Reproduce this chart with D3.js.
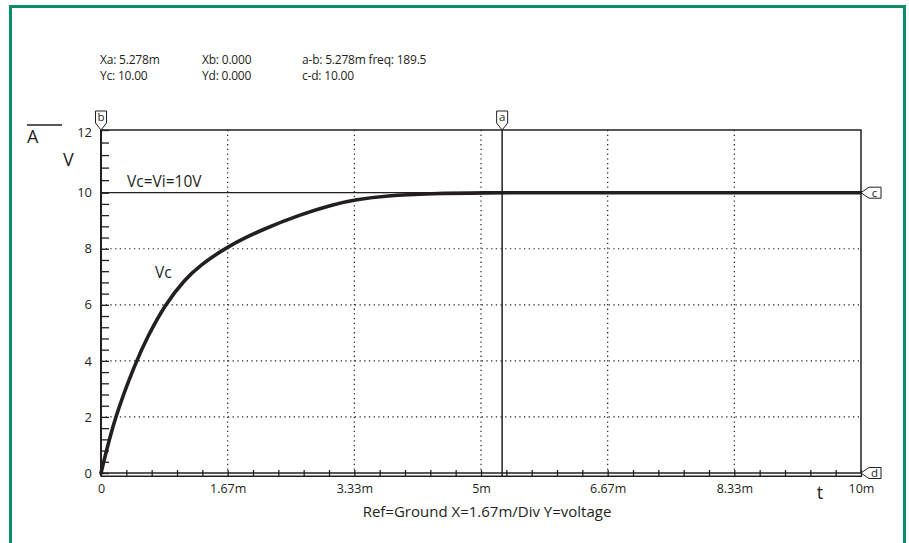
<!DOCTYPE html>
<html>
<head>
<meta charset="utf-8">
<script src="https://cdn.jsdelivr.net/npm/d3@7"></script>
<style>
  html, body { margin: 0; padding: 0; background: #fff; }
  svg { display: block; }
  text { font-family: "Open Sans", "Noto Sans", sans-serif; fill: #231f20; }
</style>
</head>
<body>
<svg id="chart" width="909" height="543"></svg>
<script>
// ---- data ----
const timeMs = [0, 0.18, 0.46, 0.61, 0.84, 1.1, 1.3, 1.67, 2.15, 2.6, 3.05, 3.35, 3.75, 4.35, 5.0, 6.0, 8.0, 10.0];
const vcVolts = [0, 2.0, 3.97, 4.85, 6.0, 6.9, 7.4, 8.1, 8.72, 9.2, 9.58, 9.75, 9.89, 9.97, 10.0, 10.0, 10.0, 10.0];
const xTickValues = [0, 10/6, 20/6, 5, 40/6, 50/6, 10];
const xTickLabels = ["0", "1.67m", "3.33m", "5m", "6.67m", "8.33m", "10m"];
const yTickValues = [0, 2, 4, 6, 8, 10, 12];
const yTickLabels = ["0", "2", "4", "6", "8", "10", "12"];
const headerLines = [
  ["Xa: 5.278m", "Xb: 0.000", "a-b: 5.278m freq: 189.5"],
  ["Yc: 10.00", "Yd: 0.000", "c-d: 10.00"]
];
const cursorA = 5.278, cursorB = 0, cursorC = 10, cursorD = 0;
const refLabel = "Ref=Ground X=1.67m/Div Y=voltage";

// ---- layout ----
const svg = d3.select("#chart");
const ink = "#231f20";
const L = 101, R = 861, T = 130, B = 473;
const x = d3.scaleLinear().domain([0, 10]).range([L, R]);
const y = d3.scaleLinear().domain([0, 10, 12]).range([B, 192.7, T]);

// green frame
svg.append("rect").attr("x", 10.5).attr("y", 6.5).attr("width", 894).attr("height", 560)
  .attr("fill", "none").attr("stroke", "#0b8d6b").attr("stroke-width", 3);

// header
const colX = [100, 202, 302];
headerLines.forEach((row, i) => {
  row.forEach((s, j) => {
    svg.append("text").attr("x", colX[j]).attr("y", 64 + i * 16)
      .attr("font-size", 12).attr("letter-spacing", -0.2).text(s);
  });
});

// grid (dotted)
const g = svg.append("g");
g.selectAll(".vg").data(xTickValues.slice(1, -1)).join("line")
  .attr("x1", d => x(d)).attr("x2", d => x(d)).attr("y1", T).attr("y2", B)
  .attr("stroke", ink).attr("stroke-width", 1.2).attr("stroke-dasharray", "1.3,3.4");
g.selectAll(".hg").data([2, 4, 6, 8]).join("line")
  .attr("x1", L).attr("x2", R).attr("y1", d => y(d)).attr("y2", d => y(d))
  .attr("stroke", ink).attr("stroke-width", 1.2).attr("stroke-dasharray", "1.3,3.4");

// plot frame
svg.append("rect").attr("x", L).attr("y", T).attr("width", R - L).attr("height", B - T)
  .attr("fill", "none").attr("stroke", ink).attr("stroke-width", 1.5);
svg.append("line").attr("x1", L).attr("x2", R).attr("y1", B + 3.3).attr("y2", B + 3.3)
  .attr("stroke", ink).attr("stroke-width", 1.5);
svg.append("line").attr("x1", L).attr("x2", L).attr("y1", T).attr("y2", B + 3.3)
  .attr("stroke", ink).attr("stroke-width", 2);

// x axis minor ticks + labels
const xMinor = d3.range(0, 31).map(i => i / 3);
const xAxis = d3.axisBottom(x).tickValues(xMinor).tickSize(7).tickFormat("");
const xa = svg.append("g").attr("transform", `translate(0,${B - 3})`).call(xAxis);
xa.select(".domain").remove();
xa.selectAll(".tick line").attr("stroke", ink).attr("stroke-width", 1.3);
const xLab = d3.axisBottom(x).tickValues(xTickValues).tickSize(0)
  .tickFormat((d, i) => xTickLabels[i]);
const xl = svg.append("g").attr("transform", `translate(0,${B + 8})`).call(xLab);
xl.select(".domain").remove();
xl.selectAll("text").attr("font-size", 12.5).attr("font-family", "Open Sans, sans-serif").attr("fill", ink);

// y axis minor ticks + labels
const yMinor = d3.range(0, 31).map(i => i * 0.4);
const yAxis = d3.axisRight(y).tickValues(yMinor).tickSize(8).tickFormat("");
const ya = svg.append("g").attr("transform", `translate(${L},0)`).call(yAxis);
ya.select(".domain").remove();
ya.selectAll(".tick line").attr("stroke", ink).attr("stroke-width", 1.3);
const yLab = d3.axisLeft(y).tickValues(yTickValues).tickSize(0)
  .tickFormat((d, i) => yTickLabels[i]);
const yl = svg.append("g").attr("transform", `translate(${L - 6},0)`).call(yLab);
yl.select(".domain").remove();
yl.selectAll("text").attr("font-size", 13).attr("font-family", "Open Sans, sans-serif").attr("fill", ink);
yl.selectAll(".tick").filter(d => d === 12).attr("transform", `translate(0,${y(12) + 3})`);

// cursor lines
svg.append("line").attr("x1", L).attr("x2", R).attr("y1", y(cursorC)).attr("y2", y(cursorC))
  .attr("stroke", ink).attr("stroke-width", 1.3);
svg.append("line").attr("x1", x(cursorA)).attr("x2", x(cursorA)).attr("y1", T).attr("y2", B + 3)
  .attr("stroke", ink).attr("stroke-width", 1.5);

// curve
const line = d3.line().x(d => x(d[0])).y(d => y(d[1])).curve(d3.curveBasis);
svg.append("path").datum(timeMs.map((t, i) => [t, vcVolts[i]]))
  .attr("d", line).attr("fill", "none").attr("stroke", ink).attr("stroke-width", 3.6)
  .attr("stroke-linejoin", "round").attr("stroke-linecap", "round");

// cursor markers
function topMarker(cx, letter) {
  const p = `M${cx},${T} L${cx - 5.5},${T - 7} L${cx - 5.5},${T - 19} L${cx + 5.5},${T - 19} L${cx + 5.5},${T - 7} Z`;
  svg.append("path").attr("d", p).attr("fill", "#fff").attr("stroke", ink).attr("stroke-width", 1);
  svg.append("text").attr("x", cx).attr("y", T - 9.5).attr("text-anchor", "middle")
    .attr("font-size", 11.5).text(letter);
}
function sideMarker(cy, letter) {
  const p = `M${R},${cy} L${R + 8},${cy - 5.5} L${R + 20},${cy - 5.5} L${R + 20},${cy + 5.5} L${R + 8},${cy + 5.5} Z`;
  svg.append("path").attr("d", p).attr("fill", "#fff").attr("stroke", ink).attr("stroke-width", 1);
  svg.append("text").attr("x", R + 13.5).attr("y", cy + 3.8).attr("text-anchor", "middle")
    .attr("font-size", 11.5).text(letter);
}
topMarker(x(cursorB), "b");
topMarker(x(cursorA), "a");
sideMarker(y(cursorC), "c");
sideMarker(y(cursorD), "d");

// labels
svg.append("line").attr("x1", 27).attr("x2", 62).attr("y1", 125).attr("y2", 125)
  .attr("stroke", ink).attr("stroke-width", 1.3);
svg.append("text").attr("x", 27).attr("y", 143).attr("font-size", 18).text("A");
svg.append("text").attr("x", 63).attr("y", 166).attr("font-size", 18).text("V");
svg.append("text").attr("x", 127).attr("y", 187).attr("font-size", 15.5).text("Vc=Vi=10V");
svg.append("text").attr("x", 155).attr("y", 278).attr("font-size", 15.5).text("Vc");
svg.append("text").attr("x", 820).attr("y", 499).attr("font-size", 18).attr("text-anchor", "middle").text("t");
svg.append("text").attr("x", 487).attr("y", 517).attr("font-size", 15).attr("text-anchor", "middle").text(refLabel);
</script>
</body>
</html>
